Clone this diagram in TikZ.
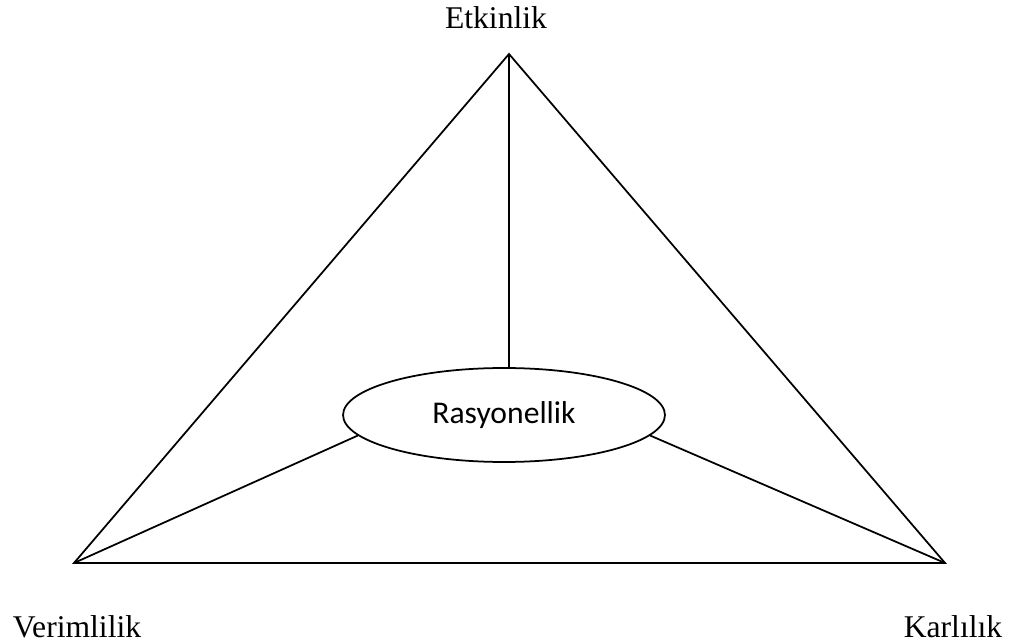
\documentclass[tikz,border=0pt]{standalone}
\usepackage{fontspec}
\setmainfont{Liberation Serif}
\newfontfamily\calibrifont{Carlito}
\usetikzlibrary{shapes.geometric}

\begin{document}
\begin{tikzpicture}[x=0.02cm,y=-0.02cm,line width=1pt,every node/.style={font=\fontsize{18}{21}\selectfont},corner/.style={anchor=base,inner sep=0pt},core/.style={draw,ellipse,inner sep=0pt,minimum width=6.44cm,minimum height=1.88cm,font=\calibrifont\fontsize{18}{21}\selectfont}]
\useasboundingbox (0,0) rectangle (1016,644);
\coordinate (top) at (509,54); \coordinate (left) at (74,563); \coordinate (right) at (945,563);
\node[core] (rational) at (504,415) {Rasyonellik};
\node[corner] (effect) at (496,29) {Etkinlik};
\node[corner] (effic) at (77,637) {Verimlilik};
\node[corner] (profit) at (953,637) {Karlılık};
\draw[line join=miter] (top) -- (left) -- (right) -- cycle;
\draw (top) -- (top |- rational.north);
\draw (rational.188) -- (left); \draw (rational.-8) -- (right);
\end{tikzpicture}
\end{document}
